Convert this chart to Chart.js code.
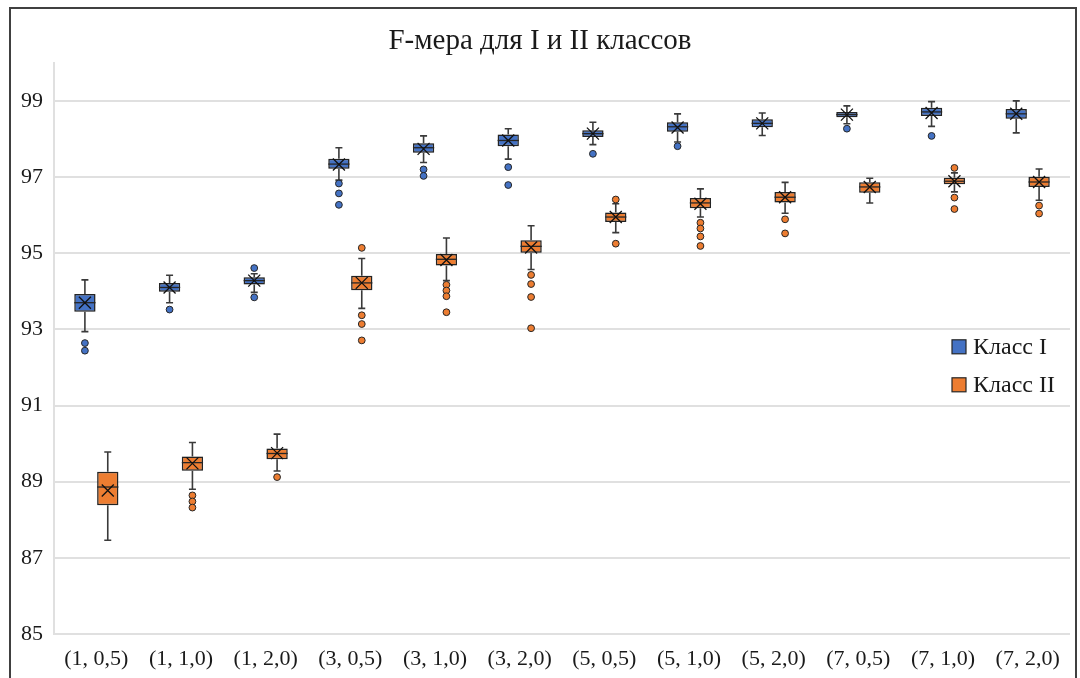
<!DOCTYPE html>
<html>
<head>
<meta charset="utf-8">
<script src="https://cdn.jsdelivr.net/npm/chart.js@4.4.1/dist/chart.umd.min.js"></script>
<style>
  html, body { margin: 0; padding: 0; background: #ffffff; }
  #wrap { width: 1080px; height: 678px; position: relative; }
</style>
</head>
<body>
<div id="wrap"><canvas id="chart" width="1080" height="678"></canvas></div>
<script>
// Parameter combinations on the horizontal axis
const categories = ['(1, 0,5)', '(1, 1,0)', '(1, 2,0)', '(3, 0,5)', '(3, 1,0)', '(3, 2,0)',
                    '(5, 0,5)', '(5, 1,0)', '(5, 2,0)', '(7, 0,5)', '(7, 1,0)', '(7, 2,0)'];
const yTicks = [85, 87, 89, 91, 93, 95, 97, 99];

// Class I: five-number summary, mean and outliers per category
const c1Min    = [92.94, 93.70, 93.97, 96.92, 97.38, 97.47, 97.85, 97.92, 98.09, 98.40, 98.33, 98.16];
const c1Q1     = [93.46, 93.99, 94.18, 97.22, 97.64, 97.81, 98.05, 98.19, 98.31, 98.57, 98.60, 98.53];
const c1Median = [93.70, 94.10, 94.28, 97.34, 97.77, 97.96, 98.14, 98.32, 98.41, 98.64, 98.71, 98.66];
const c1Q3     = [93.93, 94.22, 94.37, 97.48, 97.89, 98.12, 98.23, 98.44, 98.52, 98.71, 98.82, 98.79];
const c1Max    = [94.30, 94.42, 94.46, 97.77, 98.08, 98.27, 98.44, 98.66, 98.68, 98.87, 98.98, 99.00];
const c1Mean   = [93.70, 94.10, 94.28, 97.33, 97.74, 97.96, 98.14, 98.30, 98.41, 98.64, 98.68, 98.66];
const c1Outliers = [[92.64, 92.44], [93.52], [94.61, 93.84], [96.83, 96.57, 96.27], [97.20, 97.03],
                    [97.26, 96.79], [97.61], [97.81], [], [98.27], [98.08], []];

// Class II
const c2Min    = [87.46, 88.80, 89.28, 93.55, 94.28, 94.57, 95.54, 95.95, 96.05, 96.32, 96.61, 96.39];
const c2Q1     = [88.38, 89.29, 89.59, 94.03, 94.68, 95.01, 95.82, 96.18, 96.33, 96.59, 96.81, 96.74];
const c2Median = [88.86, 89.50, 89.74, 94.22, 94.84, 95.18, 95.95, 96.32, 96.47, 96.74, 96.89, 96.87];
const c2Q3     = [89.26, 89.66, 89.87, 94.41, 94.98, 95.34, 96.07, 96.45, 96.61, 96.86, 96.98, 97.01];
const c2Max    = [89.78, 90.03, 90.25, 94.86, 95.40, 95.72, 96.30, 96.69, 96.86, 96.97, 97.11, 97.21];
const c2Mean   = [88.77, 89.48, 89.75, 94.22, 94.82, 95.15, 95.95, 96.30, 96.47, 96.74, 96.89, 96.87];
const c2Outliers = [[], [88.64, 88.48, 88.32], [89.12], [95.14, 93.37, 93.14, 92.71], [94.17, 94.02, 93.87, 93.45],
                    [94.43, 94.19, 93.85, 93.03], [96.41, 95.25], [95.80, 95.65, 95.44, 95.19], [95.89, 95.52],
                    [], [97.24, 96.46, 96.16], [96.25, 96.04]];

const FONT = "'Liberation Serif', 'Times New Roman', serif";
const INK = '#1a1a1a';
const EDGE = '#262626';

// Soft grey halo around the boxes
const boxHalo = {
  id: 'boxHalo',
  beforeDatasetDraw(chart) {
    const ctx = chart.ctx;
    ctx.save();
    ctx.shadowColor = 'rgba(0, 0, 0, 0.28)';
    ctx.shadowBlur = 3;
  },
  afterDatasetDraw(chart) {
    chart.ctx.restore();
  }
};

// Whiskers, median line, mean cross and outlier dots on top of each floating-bar box
const boxDetails = {
  id: 'boxDetails',
  afterDatasetsDraw(chart) {
    const ctx = chart.ctx;
    const ys = chart.scales.y;
    chart.data.datasets.forEach((ds, di) => {
      const meta = chart.getDatasetMeta(di);
      const s = ds.stats;
      meta.data.forEach((bar, i) => {
        const { x, width } = bar.getProps(['x', 'width'], true);
        const left = x - width / 2, right = x + width / 2;
        const pMin = ys.getPixelForValue(s.min[i]);
        const pQ1 = ys.getPixelForValue(s.q1[i]);
        const pQ3 = ys.getPixelForValue(s.q3[i]);
        const pMax = ys.getPixelForValue(s.max[i]);
        const pMed = ys.getPixelForValue(s.median[i]);
        const pMean = ys.getPixelForValue(s.mean[i]);
        ctx.save();
        // whiskers
        ctx.strokeStyle = '#3a3a3a';
        ctx.lineWidth = 1.6;
        ctx.beginPath();
        ctx.moveTo(x, pQ1); ctx.lineTo(x, pMin);
        ctx.moveTo(x, pQ3); ctx.lineTo(x, pMax);
        ctx.moveTo(x - 3.5, pMin); ctx.lineTo(x + 3.5, pMin);
        ctx.moveTo(x - 3.5, pMax); ctx.lineTo(x + 3.5, pMax);
        ctx.stroke();
        // median
        ctx.strokeStyle = EDGE;
        ctx.lineWidth = 1.3;
        ctx.beginPath();
        ctx.moveTo(left, pMed); ctx.lineTo(right, pMed);
        ctx.stroke();
        // mean marker
        ctx.strokeStyle = '#111111';
        ctx.lineWidth = 1.3;
        ctx.beginPath();
        ctx.moveTo(x - 6, pMean - 6); ctx.lineTo(x + 6, pMean + 6);
        ctx.moveTo(x + 6, pMean - 6); ctx.lineTo(x - 6, pMean + 6);
        ctx.stroke();
        // outliers
        ctx.fillStyle = ds.backgroundColor;
        ctx.strokeStyle = EDGE;
        ctx.lineWidth = 1;
        s.outliers[i].forEach(v => {
          const py = ys.getPixelForValue(v);
          ctx.beginPath();
          ctx.arc(x, py, 3.4, 0, Math.PI * 2);
          ctx.fill();
          ctx.stroke();
        });
        ctx.restore();
      });
    });
  }
};

// Legend inside the plot area and the outer frame
const decorations = {
  id: 'decorations',
  afterDraw(chart) {
    const ctx = chart.ctx;
    const area = chart.chartArea;
    ctx.save();
    const lx = area.right - 118;
    let ly = area.top + 284;
    ctx.font = '24px ' + FONT;
    ctx.textBaseline = 'middle';
    chart.data.datasets.forEach(ds => {
      ctx.fillStyle = ds.backgroundColor;
      ctx.strokeStyle = EDGE;
      ctx.lineWidth = 1.2;
      ctx.fillRect(lx, ly - 7, 14, 14);
      ctx.strokeRect(lx, ly - 7, 14, 14);
      ctx.fillStyle = INK;
      ctx.fillText(ds.label, lx + 21, ly + 1);
      ly += 38;
    });
    ctx.strokeStyle = '#404040';
    ctx.lineWidth = 2;
    ctx.strokeRect(10, 8, 1066, 700);
    ctx.restore();
  }
};

new Chart(document.getElementById('chart'), {
  type: 'bar',
  data: {
    labels: categories,
    datasets: [
      {
        label: 'Класс I',
        data: c1Q1.map((v, i) => [v, c1Q3[i]]),
        stats: { min: c1Min, q1: c1Q1, median: c1Median, q3: c1Q3, max: c1Max, mean: c1Mean, outliers: c1Outliers },
        backgroundColor: '#4472C4',
        borderColor: EDGE,
        borderWidth: 1.5,
        borderSkipped: false
      },
      {
        label: 'Класс II',
        data: c2Q1.map((v, i) => [v, c2Q3[i]]),
        stats: { min: c2Min, q1: c2Q1, median: c2Median, q3: c2Q3, max: c2Max, mean: c2Mean, outliers: c2Outliers },
        backgroundColor: '#ED7D31',
        borderColor: EDGE,
        borderWidth: 1.5,
        borderSkipped: false
      }
    ]
  },
  options: {
    responsive: false,
    animation: false,
    devicePixelRatio: 1,
    categoryPercentage: 0.54,
    barPercentage: 0.93,
    layout: { padding: { left: 10, right: 10, top: 0, bottom: 0 } },
    plugins: {
      legend: { display: false },
      tooltip: { enabled: false },
      title: {
        display: true,
        text: 'F-мера для I и II классов',
        color: INK,
        font: { family: FONT, size: 29, weight: 'normal' },
        padding: { top: 24, bottom: 4 }
      }
    },
    scales: {
      x: {
        type: 'category',
        offset: true,
        grid: { display: false, drawTicks: false },
        border: { display: false },
        ticks: { color: INK, font: { family: FONT, size: 22 }, padding: 12, maxRotation: 0, autoSkip: false },
        afterFit(scale) { scale.height = 44; }
      },
      y: {
        min: 85,
        max: 100,
        grid: { color: '#e0e0e0', lineWidth: 2, drawTicks: false },
        border: { display: true, color: '#e0e0e0', width: 2 },
        ticks: { color: INK, font: { family: FONT, size: 22 }, padding: 11 },
        afterBuildTicks(scale) { scale.ticks = yTicks.map(v => ({ value: v })); },
        afterFit(scale) { scale.width = 44; }
      }
    }
  },
  plugins: [boxHalo, boxDetails, decorations]
});
</script>
</body>
</html>
